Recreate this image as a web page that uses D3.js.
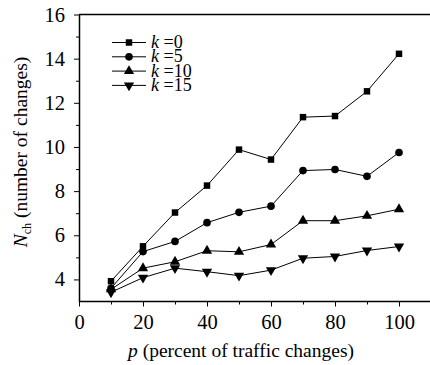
<!DOCTYPE html>
<html>
<head>
<meta charset="utf-8">
<script src="https://cdn.jsdelivr.net/npm/d3@7"></script>
<style>
  body { margin: 0; background: #fff; }
</style>
</head>
<body>
<script>
const pValues = [10, 20, 30, 40, 50, 60, 70, 80, 90, 100];
const k0 = [3.92, 5.5, 7.03, 8.25, 9.88, 9.43, 11.35, 11.4, 12.52, 14.22];
const k5 = [3.6, 5.26, 5.72, 6.57, 7.04, 7.32, 8.93, 8.98, 8.67, 9.75];
const k10 = [3.55, 4.51, 4.8, 5.3, 5.25, 5.58, 6.66, 6.66, 6.88, 7.18];
const k15 = [3.42, 4.08, 4.51, 4.35, 4.17, 4.42, 4.96, 5.04, 5.31, 5.49];
const seriesNames = ["k =0", "k =5", "k =10", "k =15"];
const xTicks = [0, 20, 40, 60, 80, 100];
const yTicks = [4, 6, 8, 10, 12, 14, 16];

const serif = "'Liberation Serif'";

const width = 430;
const height = 365;

const svg = d3.select("body")
    .append("svg")
    .attr("width", width)
    .attr("height", height);

// scales
const x = d3.scaleLinear().domain([0, 110]).range([79, 431]);
const y = d3.scaleLinear().domain([3, 16]).range([301.5, 14.5]);

const series = [
    {name: seriesNames[0], values: k0, symbol: d3.symbolSquare, size: 42, rot: 0},
    {name: seriesNames[1], values: k5, symbol: d3.symbolCircle, size: 46, rot: 0},
    {name: seriesNames[2], values: k10, symbol: d3.symbolTriangle, size: 46, rot: 0},
    {name: seriesNames[3], values: k15, symbol: d3.symbolTriangle, size: 46, rot: 180}
];

// top frame line
svg.append("line")
    .attr("x1", x(0)).attr("x2", width)
    .attr("y1", y(16)).attr("y2", y(16))
    .attr("stroke", "#000").attr("stroke-width", 1.5);

// minor ticks
svg.append("g")
    .attr("transform", `translate(0,${y(3)})`)
    .call(d3.axisBottom(x).tickValues([10, 30, 50, 70, 90]).tickSize(3).tickFormat(""))
    .call(g => g.select(".domain").remove());
svg.append("g")
    .attr("transform", `translate(${x(0)},0)`)
    .call(d3.axisLeft(y).tickValues([5, 7, 9, 11, 13, 15]).tickSize(3).tickFormat(""))
    .call(g => g.select(".domain").remove());

// x axis
const xAxis = svg.append("g")
    .attr("transform", `translate(0,${y(3)})`)
    .call(d3.axisBottom(x).tickValues(xTicks).tickSize(5).tickSizeOuter(0).tickPadding(8));
xAxis.select(".domain").attr("d", `M${x(0)},0H${width}`).attr("stroke-width", 1.5);
xAxis.selectAll("text").style("font-size", "20.5px").style("font-family", serif);

// y axis
const yAxis = svg.append("g")
    .attr("transform", `translate(${x(0)},0)`)
    .call(d3.axisLeft(y).tickValues(yTicks).tickSize(5).tickSizeOuter(0).tickPadding(9));
yAxis.select(".domain").attr("stroke-width", 1.5);
yAxis.selectAll("text").style("font-size", "20.5px").style("font-family", serif);

// lines and markers
const line = d3.line()
    .x((d, i) => x(pValues[i]))
    .y(d => y(d));

series.forEach(s => {
    svg.append("path")
        .datum(s.values)
        .attr("fill", "none")
        .attr("stroke", "#000")
        .attr("stroke-width", 1)
        .attr("d", line);

    svg.selectAll(null)
        .data(s.values)
        .enter()
        .append("path")
        .attr("d", d3.symbol().type(s.symbol).size(s.size))
        .attr("transform", (d, i) => `translate(${x(pValues[i])},${y(d)}) rotate(${s.rot})`)
        .attr("fill", "#000");
});

// legend
const legend = svg.append("g");
series.forEach((s, i) => {
    const ly = 42.5 + i * 14.3;
    legend.append("line")
        .attr("x1", 112).attr("x2", 146)
        .attr("y1", ly).attr("y2", ly)
        .attr("stroke", "#000").attr("stroke-width", 1);
    legend.append("path")
        .attr("d", d3.symbol().type(s.symbol).size(s.size))
        .attr("transform", `translate(129,${ly}) rotate(${s.rot})`)
        .attr("fill", "#000");
    const t = legend.append("text")
        .attr("x", 151).attr("y", ly + 5.5)
        .style("font-family", serif)
        .style("font-size", "18px");
    t.append("tspan").attr("font-style", "italic").text("k");
    t.append("tspan").text(" =" + s.name.split("=")[1]);
});

// axis titles
const xt = svg.append("text")
    .attr("x", 241).attr("y", 357)
    .attr("text-anchor", "middle")
    .style("font-family", serif)
    .style("font-size", "19.5px");
xt.append("tspan").attr("font-style", "italic").text("p");
xt.append("tspan").text(" (percent of traffic changes)");

const yt = svg.append("text")
    .attr("transform", `translate(27,152) rotate(-90)`)
    .attr("text-anchor", "middle")
    .style("font-family", serif)
    .style("font-size", "19.5px");
yt.append("tspan").attr("font-style", "italic").text("N");
yt.append("tspan").attr("font-size", 12).attr("dy", 4).text("ch");
yt.append("tspan").attr("dy", -4).text(" (number of changes)");
</script>
</body>
</html>
